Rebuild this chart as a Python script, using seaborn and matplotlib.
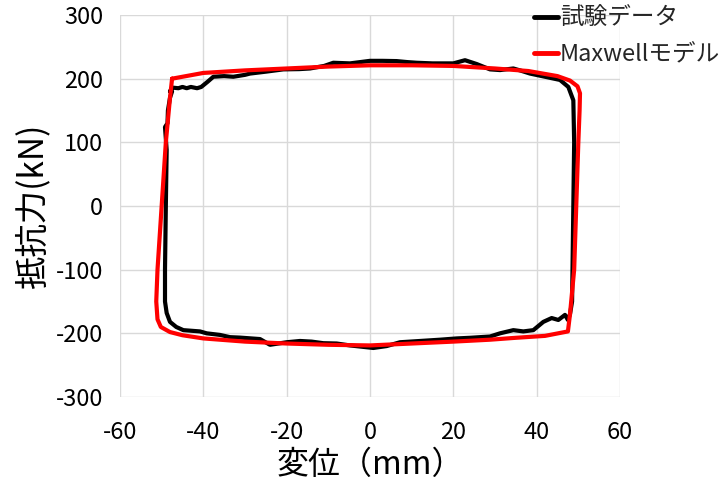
import matplotlib
matplotlib.use("Agg")
import matplotlib.pyplot as plt
import seaborn as sns
import pandas as pd

# Experimental loop (試験データ), traced clockwise
exp_x = [-48.0, -47.5, -46.0, -45.0, -44.0, -43.0, -41.5, -40.5, -39.0, -37.6, -35.0, -32.8,
         -30.0, -28.8, -25.0, -20.8, -17.0, -14.4, -11.0, -8.8, -4.8, 0.0, 3.0, 6.4, 9.0,
         11.2, 15.0, 20.0, 22.8, 25.6, 28.8, 31.2, 34.4, 36.0, 38.4, 42.0, 45.6, 47.6,
         48.8, 49.0, 48.8, 48.6, 48.5, 48.0, 47.5, 46.8, 45.2, 43.6, 41.6, 39.2, 36.8,
         34.4, 31.2, 28.8, 24.0, 20.8, 16.8, 12.0, 7.2, 4.0, 0.8, -4.8, -8.0, -11.2,
         -14.0, -16.8, -20.0, -22.0, -24.0, -26.4, -31.2, -33.6, -36.0, -39.2, -40.8,
         -44.8, -46.5, -48.0, -48.8, -49.2, -49.2, -49.0, -48.8, -49.2, -48.6, -48.5,
         -48.0, -47.5, -48.0]
exp_y = [180, 186, 185, 187, 185, 187, 185, 187, 195, 203, 204, 203,
         206, 208, 211, 214.6, 215, 216, 220, 225, 224, 228, 228, 227.6, 226,
         225, 224, 224, 229, 223, 214.6, 213.5, 216, 213, 208, 203, 198, 187,
         166, 100, 0, -100, -150, -170, -179, -171, -179, -176, -182, -195, -197,
         -195, -200, -205, -207, -208, -210, -212, -214, -220, -223, -219, -216, -215.5,
         -213, -212, -214, -216, -218, -209, -206.7, -206, -202.5, -200, -197,
         -195, -190, -182, -168, -150, -100, 0, 88, 124, 130, 150,
         170, 180, 180]

# Maxwell model loop (Maxwellモデル)
mod_x = [-47.5, -40.0, -30.0, -20.0, -10.0, 0.0, 10.0, 20.0, 30.0, 38.0, 45.0, 48.0,
         49.8, 50.4, 50.3, 50.0, 49.5, 49.0, 48.0, 47.5, 42.0, 35.0, 28.8, 20.0, 10.0,
         0.0, -10.0, -20.0, -30.0, -40.0, -45.0, -48.0, -50.2, -51.0, -51.3, -51.0,
         -50.0, -49.0, -48.0, -47.5]
mod_y = [200, 209, 213, 216, 219, 221, 221, 220, 216, 212, 204, 197,
         188, 177, 150, 100, 0, -100, -170, -197, -204, -207, -210, -213, -216,
         -219, -218, -216, -213, -208, -203, -198, -190, -178, -150, -100,
         0, 100, 170, 200]

series_names = ["試験データ", "Maxwellモデル"]
colors = ["#000000", "#ff0000"]
x_ticks = [-60, -40, -20, 0, 20, 40, 60]
y_ticks = [-300, -200, -100, 0, 100, 200, 300]

sns.set_theme(style="whitegrid")
plt.rcParams["font.family"] = ["Noto Sans CJK JP", "DejaVu Sans"]
plt.rcParams["axes.unicode_minus"] = False

df = pd.concat([
    pd.DataFrame({"x": exp_x, "y": exp_y, "s": series_names[0], "o": range(len(exp_x))}),
    pd.DataFrame({"x": mod_x, "y": mod_y, "s": series_names[1], "o": range(len(mod_x))}),
])

fig = plt.figure(figsize=(7.23, 4.86), dpi=100)
ax = fig.add_axes([120 / 723, 1 - 397 / 486, 500 / 723, 382 / 486])

sns.lineplot(data=df, x="x", y="y", hue="s", palette=colors, sort=False,
             estimator=None, units="s", linewidth=3.0, ax=ax, legend=True)

ax.set_xlim(-60, 60)
ax.set_ylim(-300, 300)
ax.set_xticks(x_ticks)
ax.set_yticks(y_ticks)
ax.grid(True, color="#d9d9d9", linewidth=1.0)
for sp in ax.spines.values():
    sp.set_visible(False)
ax.tick_params(axis="both", labelsize=17, colors="black", length=0)
ax.tick_params(axis="y", pad=12)
ax.tick_params(axis="x", pad=17)

ax.set_xlabel("変位（mm）", fontsize=23, color="black", labelpad=4)
ax.set_ylabel("抵抗力(kN)", fontsize=24, color="black", labelpad=4)

handles, labels = ax.get_legend_handles_labels()
for h in handles:
    h.set_linewidth(3.5)
ax.legend(handles, labels, loc="upper left", bbox_to_anchor=(534 / 723, 1 - 7 / 486),
          bbox_transform=fig.transFigure, frameon=False, fontsize=17,
          handlelength=1.0, handletextpad=0.1, labelspacing=0.55,
          borderaxespad=0.0, borderpad=0.0)

fig.savefig("out.png", dpi=100)
